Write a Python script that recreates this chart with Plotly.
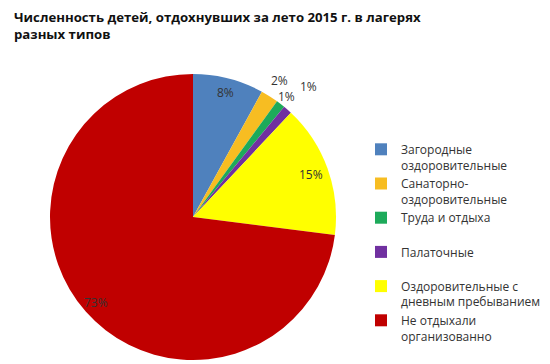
import math
import plotly.graph_objects as go

title_lines = ["Численность детей, отдохнувших за лето 2015 г. в лагерях", "разных типов"]
categories = [
    "Загородные<br>оздоровительные",
    "Санаторно-<br>оздоровительные",
    "Труда и отдыха<br> ",
    "Палаточные<br> ",
    "Оздоровительные с<br>дневным пребыванием",
    "Не отдыхали<br>организованно",
]
values = [8, 2, 1, 1, 15, 73]
colors = ["#4F81BD", "#F7BD22", "#1DAA5A", "#7030A0", "#FFFF00", "#C00000"]
label_radius = [0.9, 1.13, 1.07, 1.22, 0.88, 0.9]

W, H = 550, 364
# page body has an 8px margin; positions below are in figure pixels
cx, cy, R = 185, 209, 143

fig = go.Figure(go.Pie(
    labels=categories,
    values=values,
    marker=dict(colors=colors, line=dict(width=0)),
    sort=False,
    direction="clockwise",
    rotation=0,
    textinfo="none",
    textposition="none",
    hoverinfo="label+percent",
    domain=dict(x=[(cx - R) / W, (cx + R) / W], y=[(H - cy - R) / H, (H - cy + R) / H]),
))

total = sum(values)
cum = 0
annotations = []
for v, rf in zip(values, label_radius):
    mid = (cum + v / 2) / total * 2 * math.pi
    cum += v
    px = cx + rf * R * math.sin(mid)
    py = cy - rf * R * math.cos(mid)
    annotations.append(dict(
        x=px / W, y=1 - py / H, xref="paper", yref="paper",
        text=f"{round(v / total * 100)}%", showarrow=False,
        font=dict(size=12, color="#333333", family="Open Sans"),
        xanchor="center", yanchor="middle",
    ))

for i, line in enumerate(title_lines):
    annotations.append(dict(
        x=4 / W, y=1 - (9 + 17 * i) / H, xref="paper", yref="paper",
        text="<b>" + line + "</b>", showarrow=False,
        xanchor="left", yanchor="middle", align="left",
        font=dict(size=13.2, family="Open Sans", color="#111111"),
    ))

fig.update_layout(
    width=W, height=H,
    margin=dict(l=0, r=0, t=0, b=0),
    paper_bgcolor="white",
    plot_bgcolor="white",
    annotations=annotations,
    legend=dict(
        x=353 / W, y=1 - 127 / H, xanchor="left", yanchor="top",
        font=dict(size=12, family="Open Sans", color="#333333"),
        valign="top", itemwidth=30, tracegroupgap=0,
    ),
    showlegend=True,
)

fig.write_html("out.html")
